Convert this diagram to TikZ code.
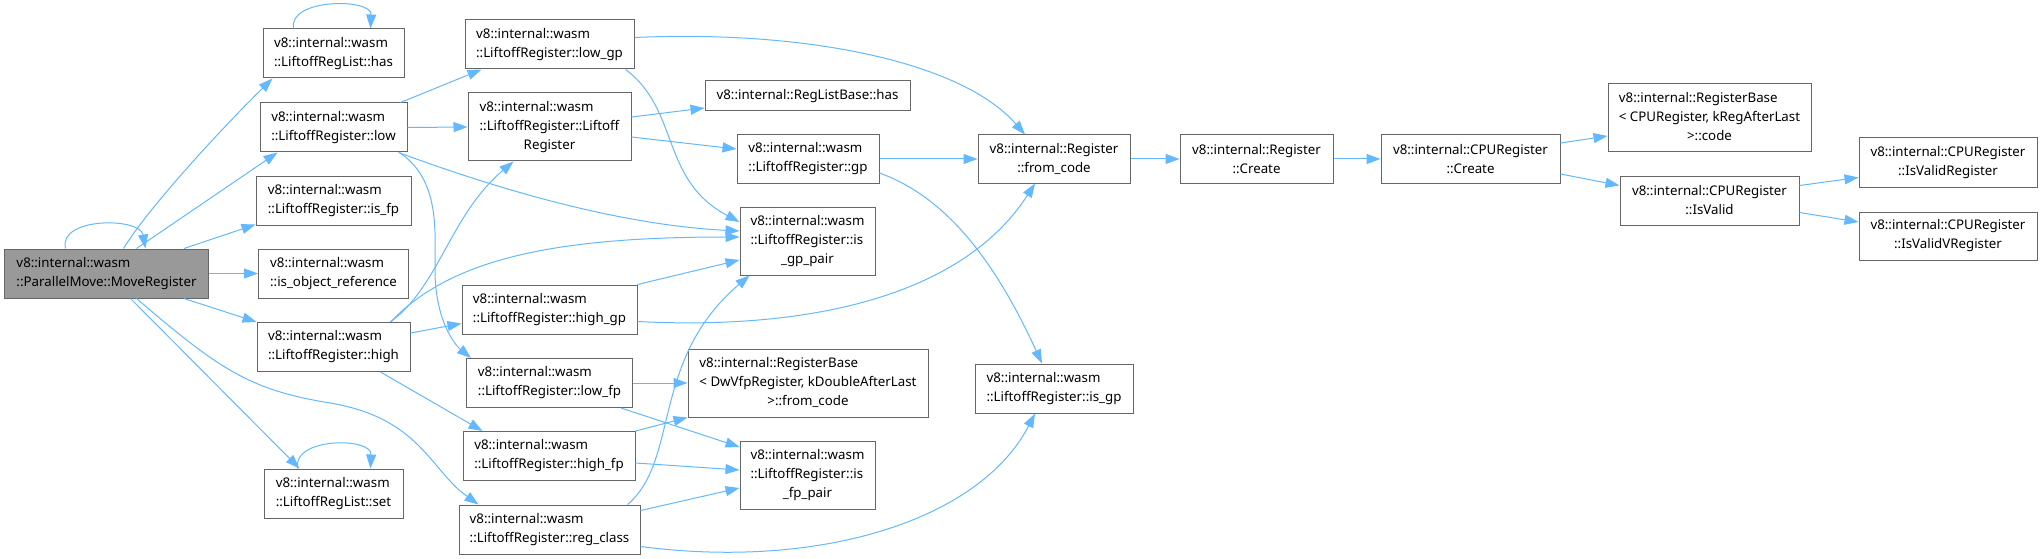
\documentclass[tikz,border=0pt]{standalone}
\usepackage{fontspec}
\setmainfont{Noto Sans}
\usepackage{xcolor}
\usepackage{tikz}
\usetikzlibrary{arrows.meta, positioning}

\definecolor{edgeblue}{HTML}{63B8FF}
\definecolor{boxgray}{HTML}{666666}
\definecolor{rootgray}{HTML}{999999}

% three lines: first two left-aligned, last one centred
\newcommand{\threelines}[3]{\begin{tabular}{@{}l@{}}#1\\#2\\\multicolumn{1}{@{}c@{}}{#3}\end{tabular}}

\begin{document}
\begin{tikzpicture}[
    x=1pt, y=-1pt,
    box/.style={
        rectangle,
        draw=boxgray,
        fill=white,
        line width=1pt,
        inner xsep=2pt,
        inner ysep=0pt,
        align=left,
        font=\fontsize{13.3}{19}\selectfont
    },
    dims/.style 2 args={minimum width=#1pt, minimum height=#2pt},
    arrow/.style={
        -{Triangle[length=14pt, width=10pt]},
        draw=edgeblue,
        line width=1pt
    }
]
\useasboundingbox (0,0) rectangle (2043,559);

% Nodes (call graph, left to right)
\node[box, dims={204}{49}, fill=rootgray] (mr) at (106.5,273.5) {v8::internal::wasm\\::ParallelMove::MoveRegister};
\node[box, dims={141}{49}] (has) at (333.5,53.5) {v8::internal::wasm\\::LiftoffRegList::has};
\node[box, dims={147}{49}] (low) at (333.5,127.5) {v8::internal::wasm\\::LiftoffRegister::low};
\node[box, dims={155}{49}] (isfp) at (333.5,200.5) {v8::internal::wasm\\::LiftoffRegister::is\_fp};
\node[box, dims={150}{49}] (isobj) at (333.5,273.5) {v8::internal::wasm\\::is\_object\_reference};
\node[box, dims={153}{49}] (high) at (333.5,347) {v8::internal::wasm\\::LiftoffRegister::high};
\node[box, dims={139}{49}] (set) at (333.5,493.5) {v8::internal::wasm\\::LiftoffRegList::set};

\node[box, dims={169}{49}] (lowgp) at (549.5,44.5) {v8::internal::wasm\\::LiftoffRegister::low\_gp};
\node[box, dims={163}{68}] (ctor) at (549.5,127) {\threelines{v8::internal::wasm}{::LiftoffRegister::Liftoff}{Register}};
\node[box, dims={175}{49}] (highgp) at (549.5,309.5) {v8::internal::wasm\\::LiftoffRegister::high\_gp};
\node[box, dims={166}{49}] (lowfp) at (549.5,383) {v8::internal::wasm\\::LiftoffRegister::low\_fp};
\node[box, dims={172}{49}] (highfp) at (549,456) {v8::internal::wasm\\::LiftoffRegister::high\_fp};
\node[box, dims={181}{49}] (regclass) at (549.5,529.5) {v8::internal::wasm\\::LiftoffRegister::reg\_class};

\node[box, dims={205}{30}] (rlbhas) at (807.5,96) {v8::internal::RegListBase::has};
\node[box, dims={142}{48}] (gp) at (808,159) {v8::internal::wasm\\::LiftoffRegister::gp};
\node[box, dims={135}{68}] (isgppair) at (807.5,241) {\threelines{v8::internal::wasm}{::LiftoffRegister::is}{\_gp\_pair}};
\node[box, dims={240}{68}] (dwvfp) at (808,383) {\threelines{v8::internal::RegisterBase}{< DwVfpRegister, kDoubleAfterLast}{>::from\_code}};
\node[box, dims={135}{68}] (isfppair) at (807.5,475) {\threelines{v8::internal::wasm}{::LiftoffRegister::is}{\_fp\_pair}};

\node[box, dims={152}{48}, align=center] (fromcode) at (1054,159) {v8::internal::Register\\::from\_code};
\node[box, dims={158}{49}] (isgp) at (1054,388.5) {v8::internal::wasm\\::LiftoffRegister::is\_gp};
\node[box, dims={153}{48}, align=center] (rcreate) at (1256.5,159) {v8::internal::Register\\::Create};
\node[box, dims={179}{48}, align=center] (ccreate) at (1470.5,159) {v8::internal::CPURegister\\::Create};
\node[box, dims={203}{68}] (cpucode) at (1709.5,118) {\threelines{v8::internal::RegisterBase}{< CPURegister, kRegAfterLast}{>::code}};
\node[box, dims={179}{49}, align=center] (isvalid) at (1709.5,200.5) {v8::internal::CPURegister\\::IsValid};
\node[box, dims={178}{49}, align=center] (isvreg) at (1948,162.5) {v8::internal::CPURegister\\::IsValidRegister};
\node[box, dims={178}{48}, align=center] (isvvreg) at (1948,236) {v8::internal::CPURegister\\::IsValidVRegister};

% Edges from MoveRegister
\draw[arrow] ([xshift=-41pt]mr.north) .. controls (58,217) and (140,217) .. ([xshift=39pt]mr.north);
\draw[arrow] ([xshift=17pt]mr.north) .. controls (150,205) and (230,120) .. ([xshift=10pt]has.south west);
\draw[arrow] ([xshift=30pt]mr.north) -- ([xshift=18pt]low.south west);
\draw[arrow] ([xshift=-25pt]mr.north east) -- ([yshift=1pt]isfp.south west);
\draw[arrow] (mr.east) -- (isobj.west);
\draw[arrow] ([xshift=-25pt]mr.south east) -- (high.north west);
\draw[arrow] ([xshift=24pt]mr.south) -- ([xshift=36pt]set.north west);
\draw[arrow] ([xshift=30pt]mr.south) .. controls (220,370) and (250,390) .. (330,403) .. controls (420,418) and (430,470) .. ([xshift=20pt]regclass.north west);

% Self calls
\draw[arrow] ([xshift=-40pt]has.north) .. controls (288,-2) and (372,-2) .. ([xshift=37pt]has.north);
\draw[arrow] ([xshift=-36pt]set.north) .. controls (292,437) and (372,437) .. ([xshift=37pt]set.north);

% Edges from low / high
\draw[arrow] ([xshift=-7pt]low.north east) -- ([xshift=17pt]lowgp.south west);
\draw[arrow] (low.east) -- (ctor.west);
\draw[arrow] ([xshift=-9pt]low.south east) .. controls (500,190) and (620,225) .. ([yshift=10pt]isgppair.west);
\draw[arrow] ([xshift=-8pt]low.south east) .. controls (440,180) and (435,230) .. (435,270) .. controls (435,320) and (455,345) .. ([xshift=5pt]lowfp.north west);
\draw[arrow] ([xshift=-20pt]high.north east) .. controls (440,285) and (450,215) .. ([xshift=46pt]ctor.south west);
\draw[arrow] ([xshift=-20pt]high.north east) .. controls (450,260) and (550,237) .. ([yshift=4pt]isgppair.west);
\draw[arrow] ([yshift=14pt]high.east) -- ([yshift=-14pt]highgp.west);
\draw[arrow] ([xshift=-30pt]high.south east) -- ([xshift=20pt]highfp.north west);

% Edges from the middle column
\draw[arrow] ([yshift=7pt]lowgp.east) .. controls (800,30) and (960,60) .. ([xshift=-29pt]fromcode.north);
\draw[arrow] ([xshift=-9pt]lowgp.south east) .. controls (680,110) and (660,180) .. ([yshift=19pt]isgppair.west);
\draw[arrow] ([yshift=10pt]ctor.east) -- ([yshift=-12pt]rlbhas.west);
\draw[arrow] ([yshift=-10pt]ctor.east) -- ([yshift=10pt]gp.west);
\draw[arrow] (highgp.north east) -- ([yshift=-19pt]isgppair.west);
\draw[arrow] ([yshift=-12pt]highgp.east) .. controls (800,330) and (960,300) .. ([xshift=-19pt]fromcode.south);
\draw[arrow] (lowfp.east) -- (dwvfp.west);
\draw[arrow] ([xshift=-12pt]lowfp.south east) -- ([yshift=28pt]isfppair.west);
\draw[arrow] (highfp.north east) -- (dwvfp.south west);
\draw[arrow] ([yshift=-7pt]highfp.east) -- ([yshift=5pt]isfppair.west);
\draw[arrow] ([xshift=-13pt]regclass.north east) .. controls (680,460) and (650,360) .. ([xshift=10pt]isgppair.south west);
\draw[arrow] ([yshift=19pt]regclass.east) -- ([yshift=-13pt]isfppair.west);
\draw[arrow] ([yshift=-17pt]regclass.east) .. controls (820,570) and (980,520) .. ([xshift=-19pt]isgp.south);

% Edges on the right
\draw[arrow] (gp.east) -- (fromcode.west);
\draw[arrow] ([yshift=-14pt]gp.east) .. controls (940,195) and (990,250) .. ([xshift=-12pt]isgp.north);
\draw[arrow] (fromcode.east) -- (rcreate.west);
\draw[arrow] (rcreate.east) -- (ccreate.west);
\draw[arrow] ([yshift=16pt]ccreate.east) -- ([yshift=-18pt]cpucode.west);
\draw[arrow] ([yshift=-15pt]ccreate.east) -- ([yshift=15pt]isvalid.west);
\draw[arrow] ([yshift=15pt]isvalid.east) -- ([yshift=-15pt]isvreg.west);
\draw[arrow] ([yshift=-12pt]isvalid.east) -- ([yshift=14pt]isvvreg.west);
\end{tikzpicture}
\end{document}
